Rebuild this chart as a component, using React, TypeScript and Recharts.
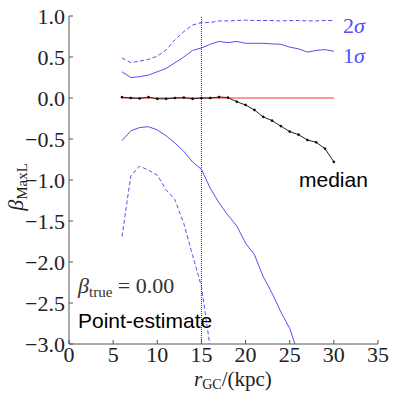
import React from "react";
import { LineChart, Line, XAxis, YAxis, ReferenceLine } from "recharts";

// galactocentric radius bins (kpc)
const radii = [6, 7, 8, 9, 10, 11, 12, 13, 14, 15, 16, 17, 18, 19, 20, 21, 22, 23, 24, 25, 26, 27, 28, 29, 30];

const median = [0.01, 0.0, -0.005, 0.01, -0.01, -0.01, 0.0, 0.005, -0.01, 0.0, 0.0, 0.012, 0.005, -0.045, -0.085, -0.146, -0.23, -0.276, -0.343, -0.41, -0.447, -0.512, -0.54, -0.618, -0.78];
const upper1 = [0.32, 0.25, 0.26, 0.28, 0.32, 0.36, 0.43, 0.5, 0.58, 0.61, 0.655, 0.69, 0.675, 0.69, 0.667, 0.667, 0.667, 0.66, 0.655, 0.62, 0.6, 0.56, 0.58, 0.59, 0.57];
const lower1 = [-0.52, -0.4, -0.36, -0.35, -0.39, -0.46, -0.55, -0.65, -0.78, -0.87, -1.1, -1.28, -1.43, -1.56, -1.77, -1.91, -2.18, -2.38, -2.61, -2.81, -3.13, -3.4, -3.7, -3.95, -4.2];
const upper2 = [0.49, 0.43, 0.45, 0.47, 0.51, 0.585, 0.71, 0.81, 0.89, 0.92, 0.92, 0.94, 0.94, 0.945, 0.95, 0.945, 0.945, 0.945, 0.94, 0.945, 0.945, 0.94, 0.94, 0.945, 0.945];
const lower2 = [-1.69, -0.95, -0.83, -0.88, -0.94, -1.12, -1.24, -1.53, -1.92, -2.3, -3.05, -3.6, -4.0, -4.3, -4.6, -4.9, -5.2, -5.5, -5.8, -6.1, -6.4, -6.7, -7.0, -7.3, -7.6];
const betaTrue = 0.0;

const xTicks = [0, 5, 10, 15, 20, 25, 30, 35];
const yTicks = [-3.0, -2.5, -2.0, -1.5, -1.0, -0.5, 0.0, 0.5, 1.0];

const data = radii.map((r, i) => ({
  r,
  median: median[i],
  u1: upper1[i],
  l1: lower1[i],
  u2: upper2[i],
  l2: lower2[i],
  truth: betaTrue,
}));

const BLUE = "#5050f5";
const AXIS = "#555";
const serif = "'Liberation Serif', serif";
const sans = "'Liberation Sans', sans-serif";
const tickStyle = { fontFamily: serif, fontSize: 22, fill: "#222" };

const fmtY = (v: number) => v.toFixed(1).replace("-", "\u2212");
const noTick = () => <g />;

export default function App() {
  return (
    <div style={{ position: "absolute", left: 0, top: 0, width: 395, height: 395, background: "#fff" }}>
      <LineChart width={395} height={395} data={data} margin={{ top: 16, right: 17, bottom: 0, left: 0 }}>
        <XAxis
          xAxisId="b"
          dataKey="r"
          type="number"
          domain={[0, 35]}
          ticks={xTicks}
          allowDataOverflow
          height={51}
          tickSize={-4}
          tickMargin={6}
          tick={tickStyle}
          stroke={AXIS}
        />
        <XAxis
          xAxisId="t"
          orientation="top"
          dataKey="r"
          type="number"
          domain={[0, 35]}
          ticks={xTicks}
          allowDataOverflow
          height={0}
          tickSize={-4}
          tick={noTick}
          stroke={AXIS}
        />
        <YAxis
          yAxisId="l"
          type="number"
          domain={[-3, 1]}
          ticks={yTicks}
          allowDataOverflow
          width={69}
          tickSize={-4}
          tickMargin={8}
          tick={tickStyle}
          tickFormatter={fmtY}
          stroke={AXIS}
        />
        <YAxis
          yAxisId="r"
          orientation="right"
          type="number"
          domain={[-3, 1]}
          ticks={yTicks}
          allowDataOverflow
          width={0}
          tickSize={-4}
          tick={noTick}
          stroke={AXIS}
        />
        <ReferenceLine xAxisId="b" yAxisId="l" x={15} stroke="#333" strokeDasharray="1 1" />
        <Line xAxisId="b" yAxisId="l" dataKey="u2" stroke={BLUE} strokeWidth={1} strokeDasharray="4 2.5" dot={false} isAnimationActive={false} />
        <Line xAxisId="b" yAxisId="l" dataKey="l2" stroke={BLUE} strokeWidth={1} strokeDasharray="4 2.5" dot={false} isAnimationActive={false} />
        <Line xAxisId="b" yAxisId="l" dataKey="u1" stroke={BLUE} strokeWidth={1} dot={false} isAnimationActive={false} />
        <Line xAxisId="b" yAxisId="l" dataKey="l1" stroke={BLUE} strokeWidth={1} dot={false} isAnimationActive={false} />
        <Line xAxisId="b" yAxisId="l" dataKey="truth" stroke="#ff3030" strokeWidth={1} dot={false} isAnimationActive={false} />
        <Line
          xAxisId="b"
          yAxisId="l"
          dataKey="median"
          stroke="#222"
          strokeWidth={1}
          dot={{ r: 1.1, fill: "#000", stroke: "#000", strokeWidth: 0.4 }}
          isAnimationActive={false}
        />
      </LineChart>
      <svg width={395} height={395} style={{ position: "absolute", left: 0, top: 0, pointerEvents: "none" }}>
        <text x={343} y={33} fill={BLUE} fontFamily={serif} fontSize={22}>
          2<tspan fontStyle="italic">σ</tspan>
        </text>
        <text x={343} y={63} fill={BLUE} fontFamily={serif} fontSize={22}>
          1<tspan fontStyle="italic">σ</tspan>
        </text>
        <text x={299} y={187} fill="#000" fontFamily={sans} fontSize={21}>median</text>
        <text x={78} y={293} fill="#333" fontFamily={serif} fontSize={22}>
          <tspan fontStyle="italic">β</tspan>
          <tspan fontSize={15} dy={4}>true</tspan>
          <tspan dy={-4}> = 0.00</tspan>
        </text>
        <text x={78} y={328} fill="#000" fontFamily={sans} fontSize={21}>Point-estimate</text>
        <text x={194} y={386} fill="#222" fontFamily={serif} fontSize={21}>
          <tspan fontStyle="italic">r</tspan>
          <tspan fontSize={14} dy={3}>GC</tspan>
          <tspan dy={-3}>/(kpc)</tspan>
        </text>
        <text transform="translate(23,187) rotate(-90)" textAnchor="middle" fill="#222" fontFamily={serif} fontSize={22}>
          <tspan fontStyle="italic">β</tspan>
          <tspan fontSize={15} dy={4}>MaxL</tspan>
        </text>
      </svg>
    </div>
  );
}
